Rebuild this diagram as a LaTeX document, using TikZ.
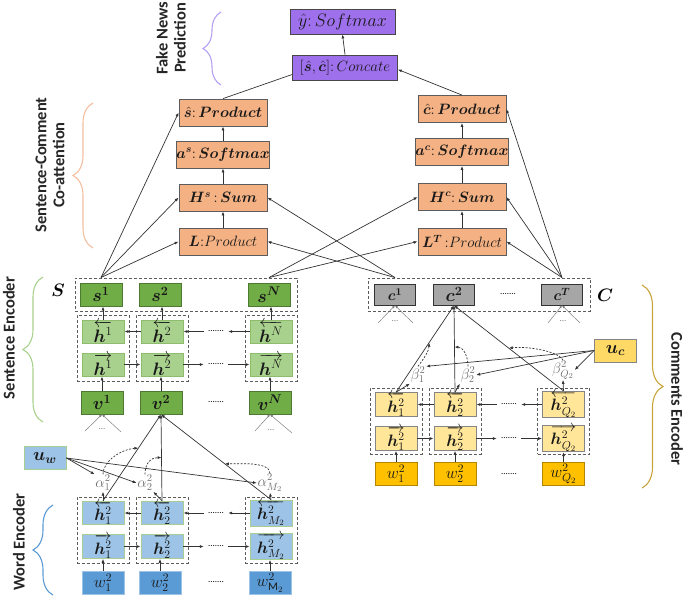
\documentclass[tikz,border=0pt]{standalone}
\usepackage{fix-cm}
\usepackage{amsmath}
\usepackage{bm}
\usepackage{fontspec}
\setmainfont{Carlito}
\usetikzlibrary{arrows.meta,decorations.pathreplacing,calc}
\definecolor{purp}{RGB}{158,112,236}
\definecolor{orng}{RGB}{244,177,131}
\definecolor{dgrn}{RGB}{112,173,71}
\definecolor{lgrn}{RGB}{169,209,142}
\definecolor{lblu}{RGB}{157,195,230}
\definecolor{mblu}{RGB}{91,155,213}
\definecolor{gry}{RGB}{166,166,166}
\definecolor{yel}{RGB}{255,217,102}
\definecolor{lyel}{RGB}{255,230,153}
\definecolor{gold}{RGB}{255,192,0}
\definecolor{ln}{RGB}{51,51,51}
\definecolor{brP}{RGB}{180,160,240}
\definecolor{brO}{RGB}{244,190,160}
\definecolor{brG}{RGB}{169,209,142}
\definecolor{brB}{RGB}{91,155,213}
\definecolor{brY}{RGB}{201,164,58}
\tikzset{
 bx/.style={draw, line width=0.8pt, inner sep=0pt, minimum width=42pt, minimum height=23pt, font=\fontsize{18}{20}\selectfont, text=black!90},
 hx/.style={font=\fontsize{16.5}{18}\selectfont},
 pbox/.style={bx, fill=purp, draw=ln!90, minimum width=105pt, minimum height=25pt, font=\fontsize{15}{17}\selectfont},
 obox/.style={bx, fill=orng, draw=ln!80, minimum width=88pt, minimum height=27pt, font=\fontsize{15}{17}\selectfont},
 sgb/.style={bx, fill=dgrn, draw=dgrn!70!black},
 lgb/.style={bx, fill=lgrn, draw=dgrn!80},
 lbb/.style={bx, fill=lblu, draw=dgrn!60},
 mbb/.style={bx, fill=mblu, draw=lblu},
 gyb/.style={bx, fill=gry, draw=ln, minimum width=41pt, minimum height=21pt},
 yb/.style={bx, fill=yel, draw=ln!60},
 lyb/.style={bx, fill=lyel, draw=ln!60},
 gdb/.style={bx, fill=gold, draw=gold!70!black},
 dbox/.style={draw=ln!80, dash pattern=on 3pt off 2pt, line width=0.9pt, inner sep=0pt},
 arr/.style={draw=ln, line width=0.7pt, -{Latex[length=4pt,width=3pt]}},
 ln0/.style={draw=ln, line width=0.7pt},
 darr/.style={arr, dash pattern=on 2pt off 1.5pt},
 garr/.style={draw=gray, line width=0.5pt, -{Latex[length=3pt,width=2.5pt]}},
 dotsn/.style={inner sep=4pt, font=\fontsize{9}{9}\selectfont},
 gdots/.style={inner sep=1pt, text=gray, font=\fontsize{9}{9}\selectfont},
 lab/.style={inner sep=0.5pt, text=ln!70, font=\fontsize{15}{16}\selectfont},
 brc/.style={decorate, decoration={brace, amplitude=#1}, line width=1.1pt},
 sect/.style={font=\bfseries\fontsize{16.5}{18}\selectfont, align=center, text=black!85, inner sep=0pt},
}
\begin{document}
\begin{tikzpicture}[x=1pt,y=-1pt]
\useasboundingbox (0,0) rectangle (685,597);

% ---------- braces and section labels
\draw[brc=18pt, draw=brP] (221,85) -- (221,12);
\node[sect, rotate=90] (tFN) at (171,38) {Fake News\\Prediction};
\draw[brc=20pt, draw=brO] (93,248) -- (93,103);
\node[sect, rotate=90] (tCA) at (50,165) {Sentence-Comment\\Co-attention};
\draw[brc=20pt, draw=brG] (43,422) -- (43,277);
\node[sect, rotate=90] (tSE) at (9,338) {Sentence Encoder};
\draw[brc=20pt, draw=brB] (53,595) -- (53,505);
\node[sect, rotate=90] (tWE) at (19,542) {Word Encoder};
\draw[brc=21pt, draw=brY] (642,285) -- (642,488);
\node[sect, rotate=-90] (tCE) at (677,399) {Comments Encoder};

% ---------- prediction
\node[pbox, font=\fontsize{18}{20}\selectfont] (yhat) at (342.5,21.5) {$\hat{y}{:}\,Softmax$};
\node[pbox] (concat) at (345,67.5) {$[\bm{\hat{s}},\bm{\hat{c}}]{:}\,Concate$};

% ---------- co-attention
\node[obox] (shat) at (223,112.5) {$\bm{\hat{s}}{:}\,\bm{Product}$};
\node[obox] (as) at (223,154.5) {$\bm{a^s}{:}\,\bm{Softmax}$};
\node[obox] (Hs) at (223,197.5) {$\bm{H^s}\,{:}\,\bm{Sum}$};
\node[obox] (L) at (223,241.5) {$\bm{L}{:}Product$};
\node[obox] (chat) at (462,109) {$\bm{\hat{c}}{:}\,\bm{Product}$};
\node[obox] (ac) at (462,152) {$\bm{a^c}{:}\,\bm{Softmax}$};
\node[obox] (Hc) at (462,197) {$\bm{H^c}{:}\,\bm{Sum}$};
\node[obox] (LT) at (462,241.5) {$\bm{L^T}\,{:}Product$};

\draw[arr] (concat.north) -- (yhat.south);
\draw[ln0] (shat.north) -- ([yshift=-7pt]concat.west);
\draw[arr] (chat.north) -- ([yshift=-2pt]concat.east);
\draw[arr] (L.north) -- (Hs.south);
\draw[arr] (Hs.north) -- (as.south);
\draw[arr] (as.north) -- (shat.south);
\draw[arr] (LT.north) -- (Hc.south);
\draw[arr] (Hc.north) -- (ac.south);
\draw[arr] (ac.north) -- (chat.south);

% ---------- sentence encoder
\node[dbox, minimum width=222pt, minimum height=33pt] (S) at (186,294.5) {};
\node[sgb] (s1) at (101,294.5) {$\bm{s^1}$};
\node[sgb] (s2) at (160,294.5) {$\bm{s^2}$};
\node[sgb] (sN) at (269,294.5) {$\bm{s^N}$};
\node[font=\fontsize{18}{18}\selectfont] (Slab) at (58,290) {$\bm{S}$};

\node[dbox, minimum width=52pt, minimum height=66pt] (sd1) at (103,348) {};
\node[dbox, minimum width=52pt, minimum height=66pt] (sd2) at (162,348) {};
\node[dbox, minimum width=52pt, minimum height=66pt] (sdN) at (271,348) {};
\node[lgb] (sb1) at (103,331.5) {$\overleftarrow{\bm{h}^1}$};
\node[lgb] (sb2) at (162,331.5) {$\overleftarrow{\bm{h}^2}$};
\node[lgb] (sbN) at (271,331.5) {$\overleftarrow{\bm{h}^N}$};
\node[lgb] (sf1) at (103,364.5) {$\overrightarrow{\bm{h}^1}$};
\node[lgb] (sf2) at (162,364.5) {$\overrightarrow{\bm{h}^2}$};
\node[lgb] (sfN) at (271,364.5) {$\overrightarrow{\bm{h}^N}$};
\node[sgb] (v1) at (102,402.5) {$\bm{v^1}$};
\node[sgb] (v2) at (161,402.5) {$\bm{v^2}$};
\node[sgb] (vN) at (270,402.5) {$\bm{v^N}$};
\node[dotsn] (sbd) at (216,331.5) {.......};
\node[dotsn] (sfd) at (216,364.5) {.......};
\node[dotsn] (svd) at (216,402.5) {.......};

\draw[arr] (sf1.east) -- (sf2.west);
\draw[arr] (sf2.east) -- (sfd.west);
\draw[arr] (sfd.east) -- (sfN.west);
\draw[arr] (sb2.west) -- (sb1.east);
\draw[arr] (sbd.west) -- (sb2.east);
\draw[arr] (sbN.west) -- (sbd.east);
\draw[arr] (v1.north) -- (v1.north |- sf1.south);
\draw[arr] (v2.north) -- (v2.north |- sf2.south);
\draw[arr] (vN.north) -- (vN.north |- sfN.south);
\draw[arr] (sb1.north) -- (sb1.north |- s1.south);
\draw[arr] (sb2.north) -- (sb2.north |- s2.south);
\draw[arr] (sbN.north) -- (sbN.north |- sN.south);

% small fan-ins below v1 and vN
\node[gdots] (vd1) at (102,429) {...};
\coordinate (vd1l) at (85,431);
\coordinate (vd1r) at (121,432);
\draw[garr] (vd1l) -- (v1.south);
\draw[garr] (vd1r) -- (v1.south);
\node[gdots] (vdN) at (271,430) {...};
\coordinate (vdNl) at (255,431);
\coordinate (vdNr) at (292,433);
\draw[garr] (vdNl) -- (vN.south);
\draw[garr] (vdNr) -- (vN.south);

% ---------- word encoder
\node[lbb] (uw) at (45,458) {$\bm{u_w}$};
\node[dbox, minimum width=52pt, minimum height=66pt] (wd1) at (103,530) {};
\node[dbox, minimum width=52pt, minimum height=66pt] (wd2) at (162,530) {};
\node[dbox, minimum width=52pt, minimum height=66pt] (wdM) at (271,530) {};
\node[lbb, hx] (wb1) at (103,513) {$\overleftarrow{\bm{h}^2_1}$};
\node[lbb, hx] (wb2) at (162,513) {$\overleftarrow{\bm{h}^2_2}$};
\node[lbb, hx] (wbM) at (271,513) {$\overleftarrow{\bm{h}^2_{M_2}}$};
\node[lbb, hx] (wf1) at (103,546.5) {$\overrightarrow{\bm{h}^2_1}$};
\node[lbb, hx] (wf2) at (162,546.5) {$\overrightarrow{\bm{h}^2_2}$};
\node[lbb, hx] (wfM) at (271,546.5) {$\overrightarrow{\bm{h}^2_{M_2}}$};
\node[mbb, hx] (w1) at (103,582.5) {$w^2_1$};
\node[mbb, hx] (w2) at (160,582.5) {$w^2_2$};
\node[mbb, hx] (wM) at (270,582.5) {$w^2_{\mathrm{M}_2}$};
\node[dotsn] (wbd) at (216,513) {.......};
\node[dotsn] (wfd) at (216,546.5) {.......};
\node[dotsn] (wwd) at (216,582.5) {.......};
\node[lab] (a1) at (103,483) {$\alpha^2_1$};
\node[lab] (a2) at (145,483) {$\alpha^2_2$};
\node[lab] (aM) at (270,483) {$\alpha^2_{M_2}$};

\draw[arr] (wf1.east) -- (wf2.west);
\draw[arr] (wf2.east) -- (wfd.west);
\draw[arr] (wfd.east) -- (wfM.west);
\draw[arr] (wb2.west) -- (wb1.east);
\draw[arr] (wbd.west) -- (wb2.east);
\draw[arr] (wbM.west) -- (wbd.east);
\draw[arr] (w1.north) -- (w1.north |- wf1.south);
\draw[arr] (w2.north) -- (w2.north |- wf2.south);
\draw[arr] (wM.north) -- (wM.north |- wfM.south);

\draw[arr] (wb1.north) -- (v2.south);
\draw[arr] (wb2.north) -- (v2.south);
\draw[arr] (wbM.north) -- (v2.south);
\draw[arr] (wb1.north) -- (a1.south);
\draw[arr] (wb2.north) -- (a2.south east);
\draw[arr] (wbM.north) -- (aM.south);
\draw[arr] (uw.east) -- (a1.north west);
\draw[arr] (uw.east) -- (a2.west);
\draw[arr] (uw.east) -- (aM.west);
\coordinate (p1) at ($(wb1.north)!0.61!(v2.south)$);
\coordinate (p2) at ($(wb2.north)!0.5!(v2.south)$);
\coordinate (p3) at ($(wbM.north)!0.42!(v2.south)$);
\draw[darr] (a1.north) .. controls +(0,-14) and +(-16,1) .. (p1);
\draw[darr] (a2.north) .. controls +(0,-12) and +(-10,0) .. (p2);
\draw[darr] (aM.north) .. controls +(0,-12) and +(14,0) .. (p3);

% ---------- comments encoder
\node[dbox, minimum width=222pt, minimum height=33pt] (C) at (479,294.5) {};
\node[gyb, font=\fontsize{15}{17}\selectfont] (c1) at (395,294.5) {$\bm{c^1}$};
\node[gyb] (c2) at (454,294.5) {$\bm{c^2}$};
\node[gyb, font=\fontsize{15}{17}\selectfont] (cT) at (562,294.5) {$\bm{c^T}$};
\node[dotsn] (cd) at (508,294.5) {.......};
\node[font=\fontsize{18}{18}\selectfont] (Clab) at (605,295) {$\bm{C}$};
\node[yb] (uc) at (615.5,350.5) {$\bm{u_c}$};

\node[dbox, minimum width=52pt, minimum height=66pt] (cd1) at (396,421) {};
\node[dbox, minimum width=52pt, minimum height=66pt] (cd2) at (455,421) {};
\node[dbox, minimum width=52pt, minimum height=66pt] (cdQ) at (563.5,421) {};
\node[lyb, hx] (cb1) at (396,404.5) {$\overleftarrow{\bm{h}^2_1}$};
\node[lyb, hx] (cb2) at (455,404.5) {$\overleftarrow{\bm{h}^2_2}$};
\node[lyb, hx] (cbQ) at (563.5,404.5) {$\overleftarrow{\bm{h}^2_{Q_2}}$};
\node[lyb, hx] (cf1) at (396,438.5) {$\overrightarrow{\bm{h}^2_1}$};
\node[lyb, hx] (cf2) at (455,438.5) {$\overrightarrow{\bm{h}^2_2}$};
\node[lyb, hx] (cfQ) at (563.5,438.5) {$\overrightarrow{\bm{h}^2_{Q_2}}$};
\node[gdb, hx] (cw1) at (396,474) {$w^2_1$};
\node[gdb, hx] (cw2) at (455,474) {$w^2_2$};
\node[gdb, hx] (cwQ) at (563.5,474) {$w^2_{Q_2}$};
\node[dotsn] (cbd) at (509,404.5) {.......};
\node[dotsn] (cfd) at (509,438.5) {.......};
\node[dotsn] (cwd) at (509,474) {.......};
\node[lab] (b1) at (418,375) {$\beta^2_1$};
\node[lab] (b2) at (468,375) {$\beta^2_2$};
\node[lab] (bQ) at (563,370) {$\beta^2_{Q_2}$};

\draw[arr] (cf1.east) -- (cf2.west);
\draw[arr] (cf2.east) -- (cfd.west);
\draw[arr] (cfd.east) -- (cfQ.west);
\draw[arr] (cb2.west) -- (cb1.east);
\draw[arr] (cbd.west) -- (cb2.east);
\draw[arr] (cbQ.west) -- (cbd.east);
\draw[arr] (cw1.north) -- (cf1.south);
\draw[arr] (cw2.north) -- (cf2.south);
\draw[arr] (cwQ.north) -- (cfQ.south);

\draw[arr] (cb1.north) -- (c2.south);
\draw[arr] (cb2.north) -- (c2.south);
\draw[arr] (cbQ.north) -- (c2.south);
\draw[arr] (cb1.north) -- (b1.south west);
\draw[arr] (cb2.north) -- (b2.south west);
\draw[arr] (cbQ.north) -- (bQ.south);
\draw[arr] (uc.west) -- (b1.north east);
\draw[arr] (uc.west) -- (b2.east);
\draw[arr] (uc.west) -- (bQ.east);
\coordinate (q1) at ($(cb1.north)!0.57!(c2.south)$);
\coordinate (q2) at ($(cb2.north)!0.52!(c2.south)$);
\coordinate (q3) at ($(cbQ.north)!0.5!(c2.south)$);
\draw[darr] (b1.north) .. controls +(6,-8) and +(0,8) .. (q1);
\draw[darr] (b2.north) .. controls +(0,-10) and +(9,0) .. (q2);
\draw[darr] (bQ.north) .. controls +(-6,-10) and +(16,-2) .. (q3);

% small fan-ins below c1 and cT
\node[gdots] (cdd1) at (395,321) {...};
\coordinate (cd1l) at (378,323);
\coordinate (cd1r) at (413,323);
\draw[garr] (cd1l) -- (c1.south);
\draw[garr] (cd1r) -- (c1.south);
\node[gdots] (cddT) at (563,321) {...};
\coordinate (cdTl) at (548,323);
\coordinate (cdTr) at (580,323);
\draw[garr] (cdTl) -- (cT.south);
\draw[garr] (cdTr) -- (cT.south);

% ---------- co-attention inputs
\coordinate (s1t) at (s1.north |- S.north);
\coordinate (sNt) at (sN.north |- S.north);
\coordinate (c1t) at (c1.north |- C.north);
\coordinate (cTt) at (cT.north |- C.north);
\draw[arr] (s1t) -- (shat.west);
\draw[arr] (s1t) -- (Hs.west);
\draw[arr] (s1t) -- (L.west);
\draw[arr] (c1t) -- (Hs.east);
\draw[arr] (c1t) -- (L.east);
\draw[arr] (sNt) -- (Hc.west);
\draw[arr] (sNt) -- (LT.west);
\draw[arr] (cTt) -- (chat.east);
\draw[arr] (cTt) -- (Hc.east);
\draw[arr] (cTt) -- (LT.east);
\end{tikzpicture}
\end{document}
